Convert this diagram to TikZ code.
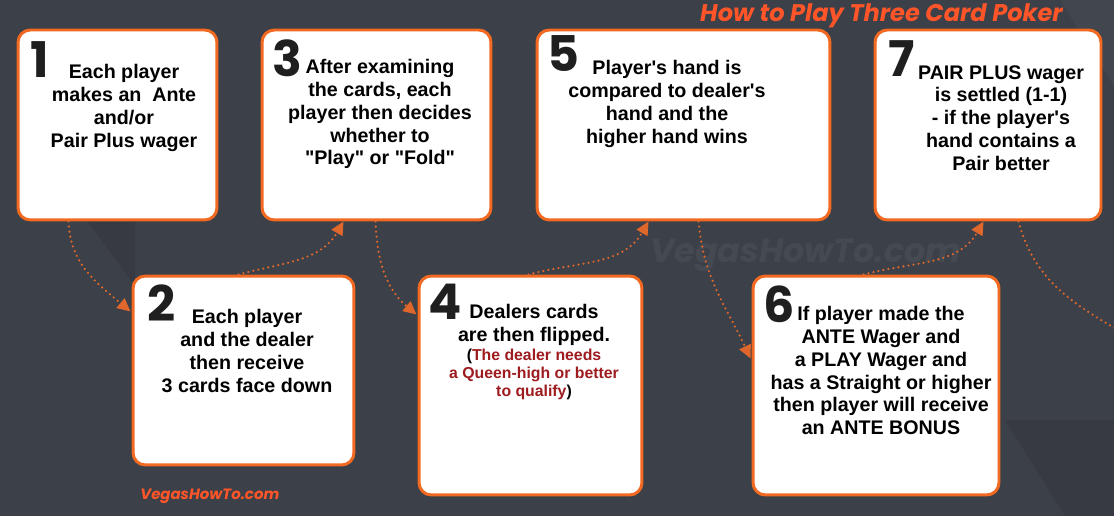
\documentclass[tikz,border=0pt]{standalone}
\usepackage{fontspec}
\setmainfont{Liberation Sans}
\newfontfamily\headfont{Poppins}
\usepackage{tikz}
\usetikzlibrary{arrows.meta,positioning}
\definecolor{bgdark}{HTML}{3C4049}
\definecolor{bgshade}{HTML}{373A42}
\definecolor{bglight}{HTML}{42464F}
\definecolor{orangeline}{HTML}{F26A21}
\definecolor{dotorange}{HTML}{E0672B}
\definecolor{titleorange}{HTML}{FF5528}
\definecolor{notered}{HTML}{9E1B1F}

\begin{document}
\begin{tikzpicture}[x=0.02cm, y=0.02cm,
    card/.style={draw=orangeline, line width=1.7pt, rounded corners=7pt,
      fill=white, inner sep=0pt},
    num/.style={font=\headfont\bfseries\fontsize{28}{28}\selectfont,
      text=black!88, inner sep=0pt, anchor=base west},
    txt/.style={font=\bfseries\fontsize{11.2}{13}\selectfont,
      align=center, inner sep=0pt, anchor=north},
    note/.style={font=\bfseries\fontsize{9}{10.2}\selectfont, text=notered,
      align=center, inner sep=0pt, anchor=north},
    brand/.style={font=\headfont\bfseries\itshape, text=titleorange, inner sep=0pt},
    flow/.style={dotorange, line width=1.4pt, dash pattern=on 0pt off 2.9pt,
      line cap=round, -{Triangle[length=7.5pt,width=7pt]}},
  ]
  % background
  \useasboundingbox (0,0) rectangle (1114,516);
  \fill[bgdark] (0,0) rectangle (1114,516);
  \fill[bglight] (1060,516) -- (1114,516) -- (1114,430) -- cycle;
  \fill[bgshade] (1005,96) -- (1114,96) -- (1114,0) -- (1065,0) -- cycle;
  \fill[bgshade] (88,294) -- (135,294) -- (135,230) -- cycle;
  \node[brand, text=white, opacity=0.05, anchor=base west,
    font=\headfont\bfseries\itshape\fontsize{19}{19}\selectfont]
    (mark) at (650,253) {VegasHowTo.com};

  % Top row: steps 1, 3, 5, 7
  \node[card, minimum width=3.98cm, minimum height=3.8cm] (b1) at (117.5,391) {};
  \node[card, minimum width=4.58cm, minimum height=3.8cm] (b3) at (376.5,391) {};
  \node[card, minimum width=5.86cm, minimum height=3.8cm] (b5) at (683.5,391) {};
  \node[card, minimum width=4.52cm, minimum height=3.8cm] (b7) at (988,391) {};
  % Bottom row: steps 2, 4, 6
  \node[card, minimum width=4.42cm, minimum height=3.78cm] (b2) at (243.5,145.5) {};
  \node[card, minimum width=4.46cm, minimum height=4.38cm] (b4) at (530.5,130.5) {};
  \node[card, minimum width=4.92cm, minimum height=4.38cm] (b6) at (876,130.5) {};

  % step numbers
  \node[num] (n1) at (30,438) {1};
  \node[num] (n2) at (147,194) {2};
  \node[num] (n3) at (272,439) {3};
  \node[num] (n4) at (428,196) {4};
  \node[num] (n5) at (547,444) {5};
  \node[num] (n6) at (763,193) {6};
  \node[num] (n7) at (888,439) {7};

  % step texts
  \node[txt] (t1) at (124,452)
    {Each player\\makes an~ Ante\\and/or\\Pair Plus wager};
  \node[txt] (t2) at (247,207)
    {Each player\\and the dealer\\then receive\\3 cards face down};
  \node[txt] (t3) at (380,457)
    {After examining\\the cards, each\\player then decides\\whether to\\
     \textquotedbl Play\textquotedbl{} or \textquotedbl Fold\textquotedbl};
  \node[txt] (t4) at (534,212) {Dealers cards\\are then flipped.};
  \node[note] (q4) at (534,167)
    {\textcolor{black}{(}The dealer needs\\a Queen-high or better\\to qualify\textcolor{black}{)}};
  \node[txt] (t5) at (667,456)
    {Player\textquotesingle s hand is\\compared to dealer\textquotesingle s\\hand and the\\higher hand wins};
  \node[txt] (t6) at (881,210)
    {If player made the\\ANTE Wager and\\a PLAY Wager and\\has a Straight or higher\\then player will receive\\an ANTE BONUS};
  \node[txt] (t7) at (1001,451)
    {PAIR PLUS wager\\is settled (1-1)\\- if the player\textquotesingle s\\hand contains a\\Pair better};

  % headings
  \node[brand, anchor=base east, font=\headfont\bfseries\itshape\fontsize{13.7}{14}\selectfont]
    (title) at (1063,494) {How to Play Three Card Poker};
  \node[brand, anchor=base west, font=\headfont\bfseries\itshape\fontsize{8.5}{9}\selectfont]
    (site) at (140,16) {VegasHowTo.com};

  % Arrows
  \coordinate (off) at (1118,186);
  \draw[flow] (b1.south west) ++(52,0) to[out=-88, in=140] ([shift={(-1,-37)}]b2.north west);
  \draw[flow] (b2.north west) ++(107,0) to[out=15, in=-120] ([shift={(83,0)}]b3.south west);
  \draw[flow] (b3.south west) ++(115,0) to[out=-88, in=140] ([shift={(-1,-40)}]b4.north west);
  \draw[flow] (b4.north west) ++(111,0) to[out=15, in=-120] ([shift={(113,0)}]b5.south west);
  \draw[flow] (b5.south west) ++(163,0) to[out=-85, in=115] ([shift={(-1,-84)}]b6.north west);
  \draw[flow] (b6.north west) ++(112,0) to[out=15, in=-120] ([shift={(110,0)}]b7.south west);
  \draw[flow, -] (b7.south west) ++(145,0) to[out=-75, in=150] (off);
\end{tikzpicture}
\end{document}
